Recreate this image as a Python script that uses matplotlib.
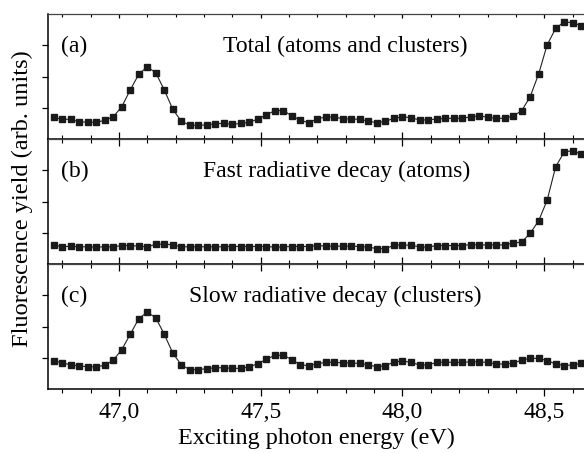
import matplotlib
matplotlib.use("Agg")
import matplotlib.pyplot as plt
from matplotlib.ticker import MultipleLocator

plt.rcParams['font.family'] = ['Liberation Serif', 'DejaVu Serif']

energy = [46.77, 46.80, 46.83, 46.86, 46.89, 46.92, 46.95, 46.98, 47.01, 47.04,
          47.07, 47.10, 47.13, 47.16, 47.19, 47.22, 47.25, 47.28, 47.31, 47.34,
          47.37, 47.40, 47.43, 47.46, 47.49, 47.52, 47.55, 47.58, 47.61, 47.64,
          47.67, 47.70, 47.73, 47.76, 47.79, 47.82, 47.85, 47.88, 47.91, 47.94,
          47.97, 48.00, 48.03, 48.06, 48.09, 48.12, 48.15, 48.18, 48.21, 48.24,
          48.27, 48.30, 48.33, 48.36, 48.39, 48.42, 48.45, 48.48, 48.51, 48.54,
          48.57, 48.60, 48.63]

total = [0.69, 0.63, 0.63, 0.55, 0.54, 0.53, 0.60, 0.71, 1.03, 1.57,
         2.07, 2.31, 2.12, 1.57, 0.95, 0.57, 0.44, 0.44, 0.45, 0.49,
         0.50, 0.47, 0.50, 0.53, 0.64, 0.77, 0.91, 0.91, 0.74, 0.60,
         0.52, 0.65, 0.70, 0.70, 0.65, 0.64, 0.63, 0.57, 0.52, 0.57,
         0.66, 0.71, 0.68, 0.61, 0.61, 0.64, 0.66, 0.66, 0.66, 0.71,
         0.74, 0.70, 0.66, 0.66, 0.74, 0.90, 1.35, 2.08, 3.01, 3.54,
         3.75, 3.72, 3.63]

fast = [0.61, 0.55, 0.57, 0.55, 0.55, 0.54, 0.55, 0.55, 0.59, 0.59,
        0.57, 0.55, 0.63, 0.64, 0.61, 0.55, 0.55, 0.55, 0.55, 0.55,
        0.55, 0.56, 0.56, 0.56, 0.56, 0.56, 0.54, 0.55, 0.56, 0.56,
        0.56, 0.59, 0.57, 0.57, 0.57, 0.57, 0.56, 0.54, 0.49, 0.49,
        0.60, 0.61, 0.60, 0.55, 0.54, 0.59, 0.59, 0.59, 0.59, 0.62,
        0.61, 0.61, 0.61, 0.61, 0.67, 0.70, 0.98, 1.38, 2.04, 3.11,
        3.58, 3.63, 3.51]

slow = [0.90, 0.84, 0.77, 0.74, 0.71, 0.71, 0.76, 0.92, 1.26, 1.75,
        2.25, 2.46, 2.28, 1.75, 1.15, 0.77, 0.62, 0.62, 0.65, 0.68,
        0.68, 0.66, 0.66, 0.71, 0.81, 0.95, 1.08, 1.08, 0.94, 0.77,
        0.75, 0.80, 0.86, 0.85, 0.84, 0.83, 0.82, 0.77, 0.71, 0.75,
        0.86, 0.90, 0.85, 0.77, 0.77, 0.85, 0.86, 0.85, 0.85, 0.87,
        0.87, 0.85, 0.80, 0.80, 0.82, 0.93, 0.98, 0.98, 0.91, 0.80,
        0.75, 0.77, 0.82]

panel_tags = ['(a)', '(b)', '(c)']
panel_titles = ['Total (atoms and clusters)',
                'Fast radiative decay (atoms)',
                'Slow radiative decay (clusters)']
title_x = [0.554, 0.539, 0.536]
xtick_pos = [47.0, 47.5, 48.0, 48.5]
xtick_labels = ['47,0', '47,5', '48,0', '48,5']

fig, axes = plt.subplots(3, 1, sharex=True, figsize=(5.84, 4.53), dpi=100)
fig.subplots_adjust(left=48/584, right=1.0, top=1-14/453, bottom=1-389/453, hspace=0)

for i, (ax, ys) in enumerate(zip(axes, [total, fast, slow])):
    ax.plot(energy, ys, '-', color='#222222', lw=0.8,
            marker='s', ms=4.8, mfc='#1a1a1a', mec='#1a1a1a')
    ax.set_ylim(0, 4)
    ax.set_xlim(46.75, 48.64)
    ax.set_yticks([1, 2, 3])
    ax.set_yticklabels([])
    ax.tick_params(axis='y', direction='out', length=4.5, width=0.9, left=True, right=False)
    ax.spines['right'].set_visible(False)
    for s in ['left', 'bottom']:
        ax.spines[s].set_linewidth(1.1)
    ax.spines['top'].set_linewidth(0.9)
    ax.spines['top'].set_color('#444444')
    ax.xaxis.set_minor_locator(MultipleLocator(0.1))
    bottom_dir = 'out' if i == 2 else 'in'
    ax.tick_params(axis='x', which='major', direction=bottom_dir, length=5, width=0.9,
                   top=False, bottom=True, labelsize=17, pad=4)
    ax.tick_params(axis='x', which='minor', direction=bottom_dir, length=3, width=0.8,
                   top=False, bottom=True)

    # ticks pointing down from the top edge of each panel
    top = ax.secondary_xaxis('top')
    top.xaxis.set_minor_locator(MultipleLocator(0.1))
    top.set_xticks(xtick_pos)
    top.tick_params(axis='x', which='major', direction='in',
                    length=3 if i == 0 else 5, width=0.9, labeltop=False)
    top.tick_params(axis='x', which='minor', direction='in',
                    length=2 if i == 0 else 3, width=0.8)
    top.spines['top'].set_visible(False)

    ax.text(0.025, 0.74, panel_tags[i], transform=ax.transAxes, fontsize=17,
            ha='left', va='center')
    ax.text(title_x[i], 0.74, panel_titles[i], transform=ax.transAxes, fontsize=17,
            ha='center', va='center')

axes[-1].set_xticks(xtick_pos)
axes[-1].set_xticklabels(xtick_labels)
axes[-1].set_xlabel('Exciting photon energy (eV)', fontsize=17.4, labelpad=4)

fig.text(22/584, 1-199/453, 'Fluorescence yield (arb. units)', rotation=90,
         fontsize=17.6, ha='center', va='center')

fig.savefig('out.png', dpi=100)
